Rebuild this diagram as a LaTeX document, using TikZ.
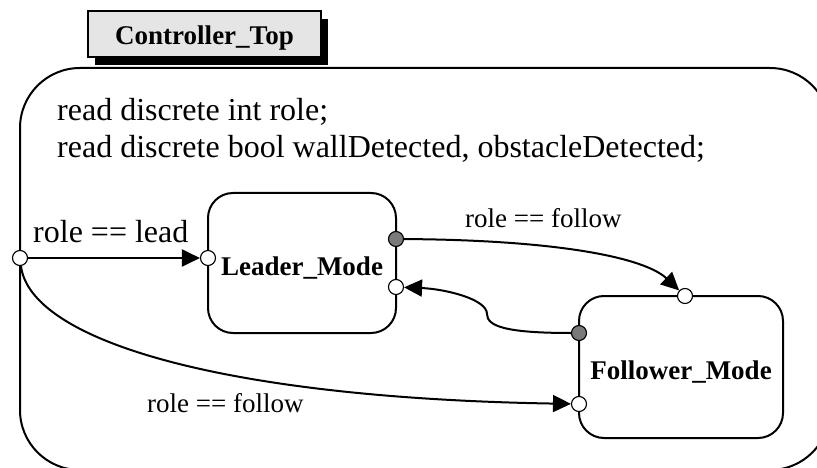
\documentclass[tikz,border=0pt]{standalone}
\usepackage{fontspec}
\setmainfont{Liberation Serif}
\usetikzlibrary{positioning,arrows.meta,shadows}
\tikzset{state/.style={draw,line width=2pt,rounded corners=25pt,inner sep=0pt,align=center,font=\fontsize{27}{32}\selectfont\bfseries,text height=24pt,text depth=0pt}}
\tikzset{port/.style={draw,circle,fill=white,line width=1.1pt,minimum size=15pt,inner sep=0pt}}
\tikzset{outport/.style={port,fill=black!52}}
\tikzset{trans/.style={line width=2pt,-{Triangle[length=18pt,width=17pt]}}}
\tikzset{guard/.style={inner sep=0pt,anchor=base west,font=\fontsize{27}{32}\selectfont}}
\tikzset{decl/.style={inner sep=0pt,anchor=base west,font=\fontsize{32}{37}\selectfont}}

\begin{document}
\begin{tikzpicture}[x=1pt,y=-1pt]
\useasboundingbox (0,0) rectangle (817,468);
\clip (0,0) rectangle (817,468);

\node[draw,line width=2pt,rounded corners=60pt,minimum width=810pt,minimum height=402pt] (ctrl) at (425,269) {};
\node[draw,line width=1.5pt,fill=black!10,minimum width=233pt,minimum height=46pt,inner sep=0pt,
  font=\fontsize{27}{32}\selectfont\bfseries,text height=22pt,text depth=0pt,
  drop shadow={shadow xshift=7pt,shadow yshift=-8pt,fill=black,opacity=1}] (title) at (204.5,34) {Controller\_Top};

\node[decl] (decl1) at (57,121) {read discrete int role;};
\node[decl] (decl2) at (57,158) {read discrete bool wallDetected, obstacleDetected;};

\node[state,minimum width=188pt,minimum height=140pt] (leader) at (302,263) {Leader\_Mode};
\node[state,minimum width=204pt,minimum height=142pt] (follower) at (681,367) {Follower\_Mode};

\node[port] (pin) at (20,258) {};
\node[port] (lin) at (208,258) {};
\node[outport] (lout) at (396,239) {};
\node[port] (lret) at (396,287) {};
\node[port] (ftop) at (685,296) {};
\node[outport] (fout) at (579,333) {};
\node[port] (fin) at (579,404) {};

\draw[trans] (pin) -- (lin);
\draw[trans] (lout) .. controls (560,240) and (645,258) .. (ftop);
\draw[trans] (fout) .. controls (505,333) and (487,326) .. (487,314) .. controls (487,299) and (445,289) .. (lret);
\draw[trans] (pin) .. controls (30,340) and (220,398) .. (fin);

\node[decl] (lead) at (33,242) {role == lead};
\node[guard] (follow1) at (465,227) {role == follow};
\node[guard] (follow2) at (147,412) {role == follow};
\end{tikzpicture}
\end{document}
